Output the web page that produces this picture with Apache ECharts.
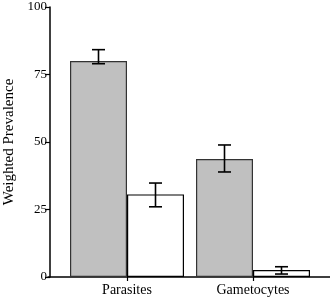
<!DOCTYPE html>
<html>
<head>
<meta charset="utf-8">
<script src="https://cdn.jsdelivr.net/npm/echarts@6/dist/echarts.min.js"></script>
<style>
  html,body{margin:0;padding:0;background:#fff;}
  #chartBox{width:330px;height:300px;}
</style>
</head>
<body>
<div id="chartBox"></div>
<script>
var categories = ['Parasites', 'Gametocytes'];
var grayVals = [80, 43.7];
var grayLow = [79, 38.9];
var grayHigh = [84.2, 48.9];
var whiteVals = [30.6, 2.6];
var whiteLow = [26, 1.1];
var whiteHigh = [34.8, 3.8];
var yTicks = [0, 25, 50, 75, 100];

var barW = 57;
var font = 'Liberation Serif';

function errData(low, high) {
  return categories.map(function (c, i) { return [i, low[i], high[i]]; });
}

// error bar whiskers drawn with caps, shifted onto the left / right bar
function errSeries(low, high, shift) {
  return {
    type: 'custom',
    xAxisIndex: 0,
    yAxisIndex: 0,
    data: errData(low, high),
    z: 5,
    renderItem: function (params, api) {
      var lo = api.coord([api.value(0), api.value(1)]);
      var hi = api.coord([api.value(0), api.value(2)]);
      var x = lo[0] + shift;
      var cap = 6.5;
      var st = { stroke: '#000', lineWidth: 1.6 };
      return {
        type: 'group',
        children: [
          { type: 'line', shape: { x1: x, y1: lo[1], x2: x, y2: hi[1] }, style: st },
          { type: 'line', shape: { x1: x - cap, y1: lo[1], x2: x + cap, y2: lo[1] }, style: st },
          { type: 'line', shape: { x1: x - cap, y1: hi[1], x2: x + cap, y2: hi[1] }, style: st }
        ]
      };
    }
  };
}

var option = {
  animation: false,
  grid: [
    { left: 64, right: 14, top: 7, bottom: 23, containLabel: false, outerBoundsMode: 'none' },
    { left: 48, right: 0, top: 7, bottom: 23, containLabel: false, outerBoundsMode: 'none' }
  ],
  xAxis: [
    {
      type: 'category',
      gridIndex: 0,
      data: categories,
      axisLine: { show: false },
      axisTick: { show: true, alignWithLabel: true, length: 4, lineStyle: { color: '#000', width: 1.2 } },
      axisLabel: { color: '#000', fontFamily: font, fontSize: 14, margin: 6 }
    },
    {
      type: 'value',
      gridIndex: 1,
      min: 0,
      max: 1,
      axisLine: { show: true, lineStyle: { color: '#000', width: 1.5 } },
      axisTick: { show: false },
      axisLabel: { show: false },
      splitLine: { show: false }
    }
  ],
  yAxis: [
    {
      type: 'value',
      gridIndex: 0,
      min: 0,
      max: 100,
      interval: 25,
      offset: 14,
      name: 'Weighted Prevalence',
      nameLocation: 'middle',
      nameGap: 30,
      nameTextStyle: { color: '#000', fontFamily: font, fontSize: 15 },
      axisLine: { show: true, lineStyle: { color: '#000', width: 1.5 } },
      axisTick: { show: true, length: 5, lineStyle: { color: '#000', width: 1.2 } },
      axisLabel: {
        color: '#000', fontFamily: font, fontSize: 13, margin: 3,
        formatter: function (v) { return yTicks.indexOf(v) >= 0 ? String(v) : ''; }
      },
      splitLine: { show: false }
    },
    { type: 'value', gridIndex: 1, show: false, min: 0, max: 100 }
  ],
  series: [
    {
      type: 'bar',
      data: grayVals,
      barWidth: barW,
      barGap: '0%',
      itemStyle: { color: '#c0c0c0', borderColor: '#333', borderWidth: 1.2 }
    },
    {
      type: 'bar',
      data: whiteVals,
      barWidth: barW,
      barGap: '0%',
      itemStyle: { color: '#fff', borderColor: '#000', borderWidth: 1.2 }
    },
    errSeries(grayLow, grayHigh, -barW / 2),
    errSeries(whiteLow, whiteHigh, barW / 2)
  ]
};

var myChart = echarts.init(document.getElementById('chartBox'));
myChart.setOption(option);
</script>
</body>
</html>
